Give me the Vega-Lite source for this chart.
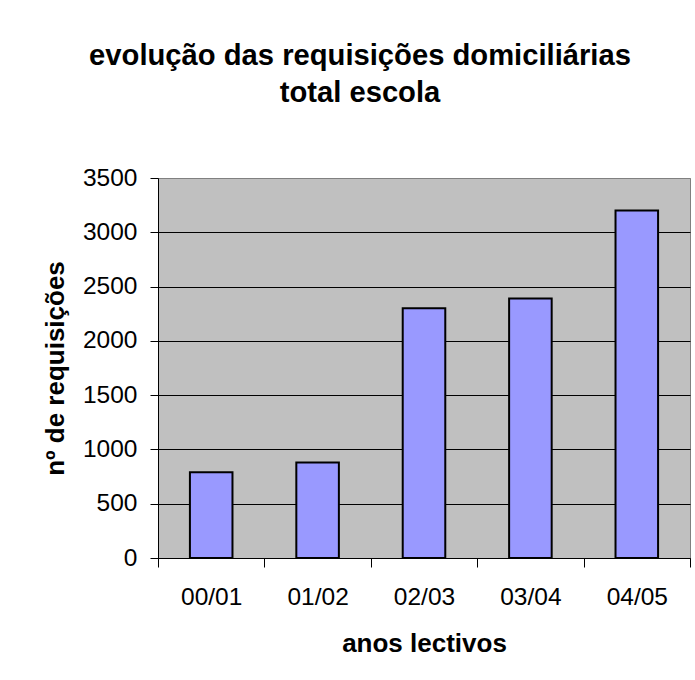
{
  "$schema": "https://vega.github.io/schema/vega-lite/v6.json",
  "width": 532,
  "height": 380,
  "autosize": {"type": "none"},
  "padding": {"left": 158, "top": 178, "right": 5, "bottom": 122},
  "background": "white",
  "title": {
    "text": ["evolução das requisições domiciliárias", "total escola"],
    "font": "Liberation Sans",
    "fontSize": 29.2,
    "fontWeight": "bold",
    "lineHeight": 37,
    "color": "black",
    "anchor": "middle",
    "dx": -64,
    "baseline": "bottom",
    "offset": 28
  },
  "data": {
    "values": [
      {"ano": "00/01", "req": 790},
      {"ano": "01/02", "req": 880},
      {"ano": "02/03", "req": 2300},
      {"ano": "03/04", "req": 2390},
      {"ano": "04/05", "req": 3200}
    ]
  },
  "mark": {"type": "bar", "fill": "#9999FF", "stroke": "black", "strokeWidth": 2, "width": {"band": 0.4}},
  "encoding": {
    "x": {
      "field": "ano",
      "type": "nominal",
      "sort": null,
      "scale": {"paddingInner": 0, "paddingOuter": 0},
      "axis": {
        "title": "anos lectivos",
        "labelAngle": 0,
        "tickBand": "extent",
        "tickSize": 9,
        "labelPadding": 18.6,
        "titlePadding": 21
      }
    },
    "y": {
      "field": "req",
      "type": "quantitative",
      "scale": {"domain": [0, 3500], "nice": false},
      "axis": {
        "title": "nº de requisições",
        "format": "d",
        "values": [0, 500, 1000, 1500, 2000, 2500, 3000, 3500],
        "tickSize": 8,
        "labelPadding": 13,
        "titlePadding": 14,
        "grid": true,
        "gridColor": {"condition": {"test": "datum.value == 3500", "value": "#808080"}, "value": "black"}
      }
    }
  },
  "config": {
    "view": {"fill": "#C0C0C0", "stroke": "#808080", "strokeWidth": 1},
    "axis": {
      "labelFont": "Liberation Sans",
      "labelFontSize": 24.5,
      "labelColor": "black",
      "titleFont": "Liberation Sans",
      "titleFontSize": 26,
      "titleFontWeight": "bold",
      "titleColor": "black",
      "domainColor": "black",
      "tickColor": "black",
      "gridWidth": 1,
      "domainWidth": 1,
      "tickWidth": 1
    },
    "axisX": {"grid": false}
  }
}
